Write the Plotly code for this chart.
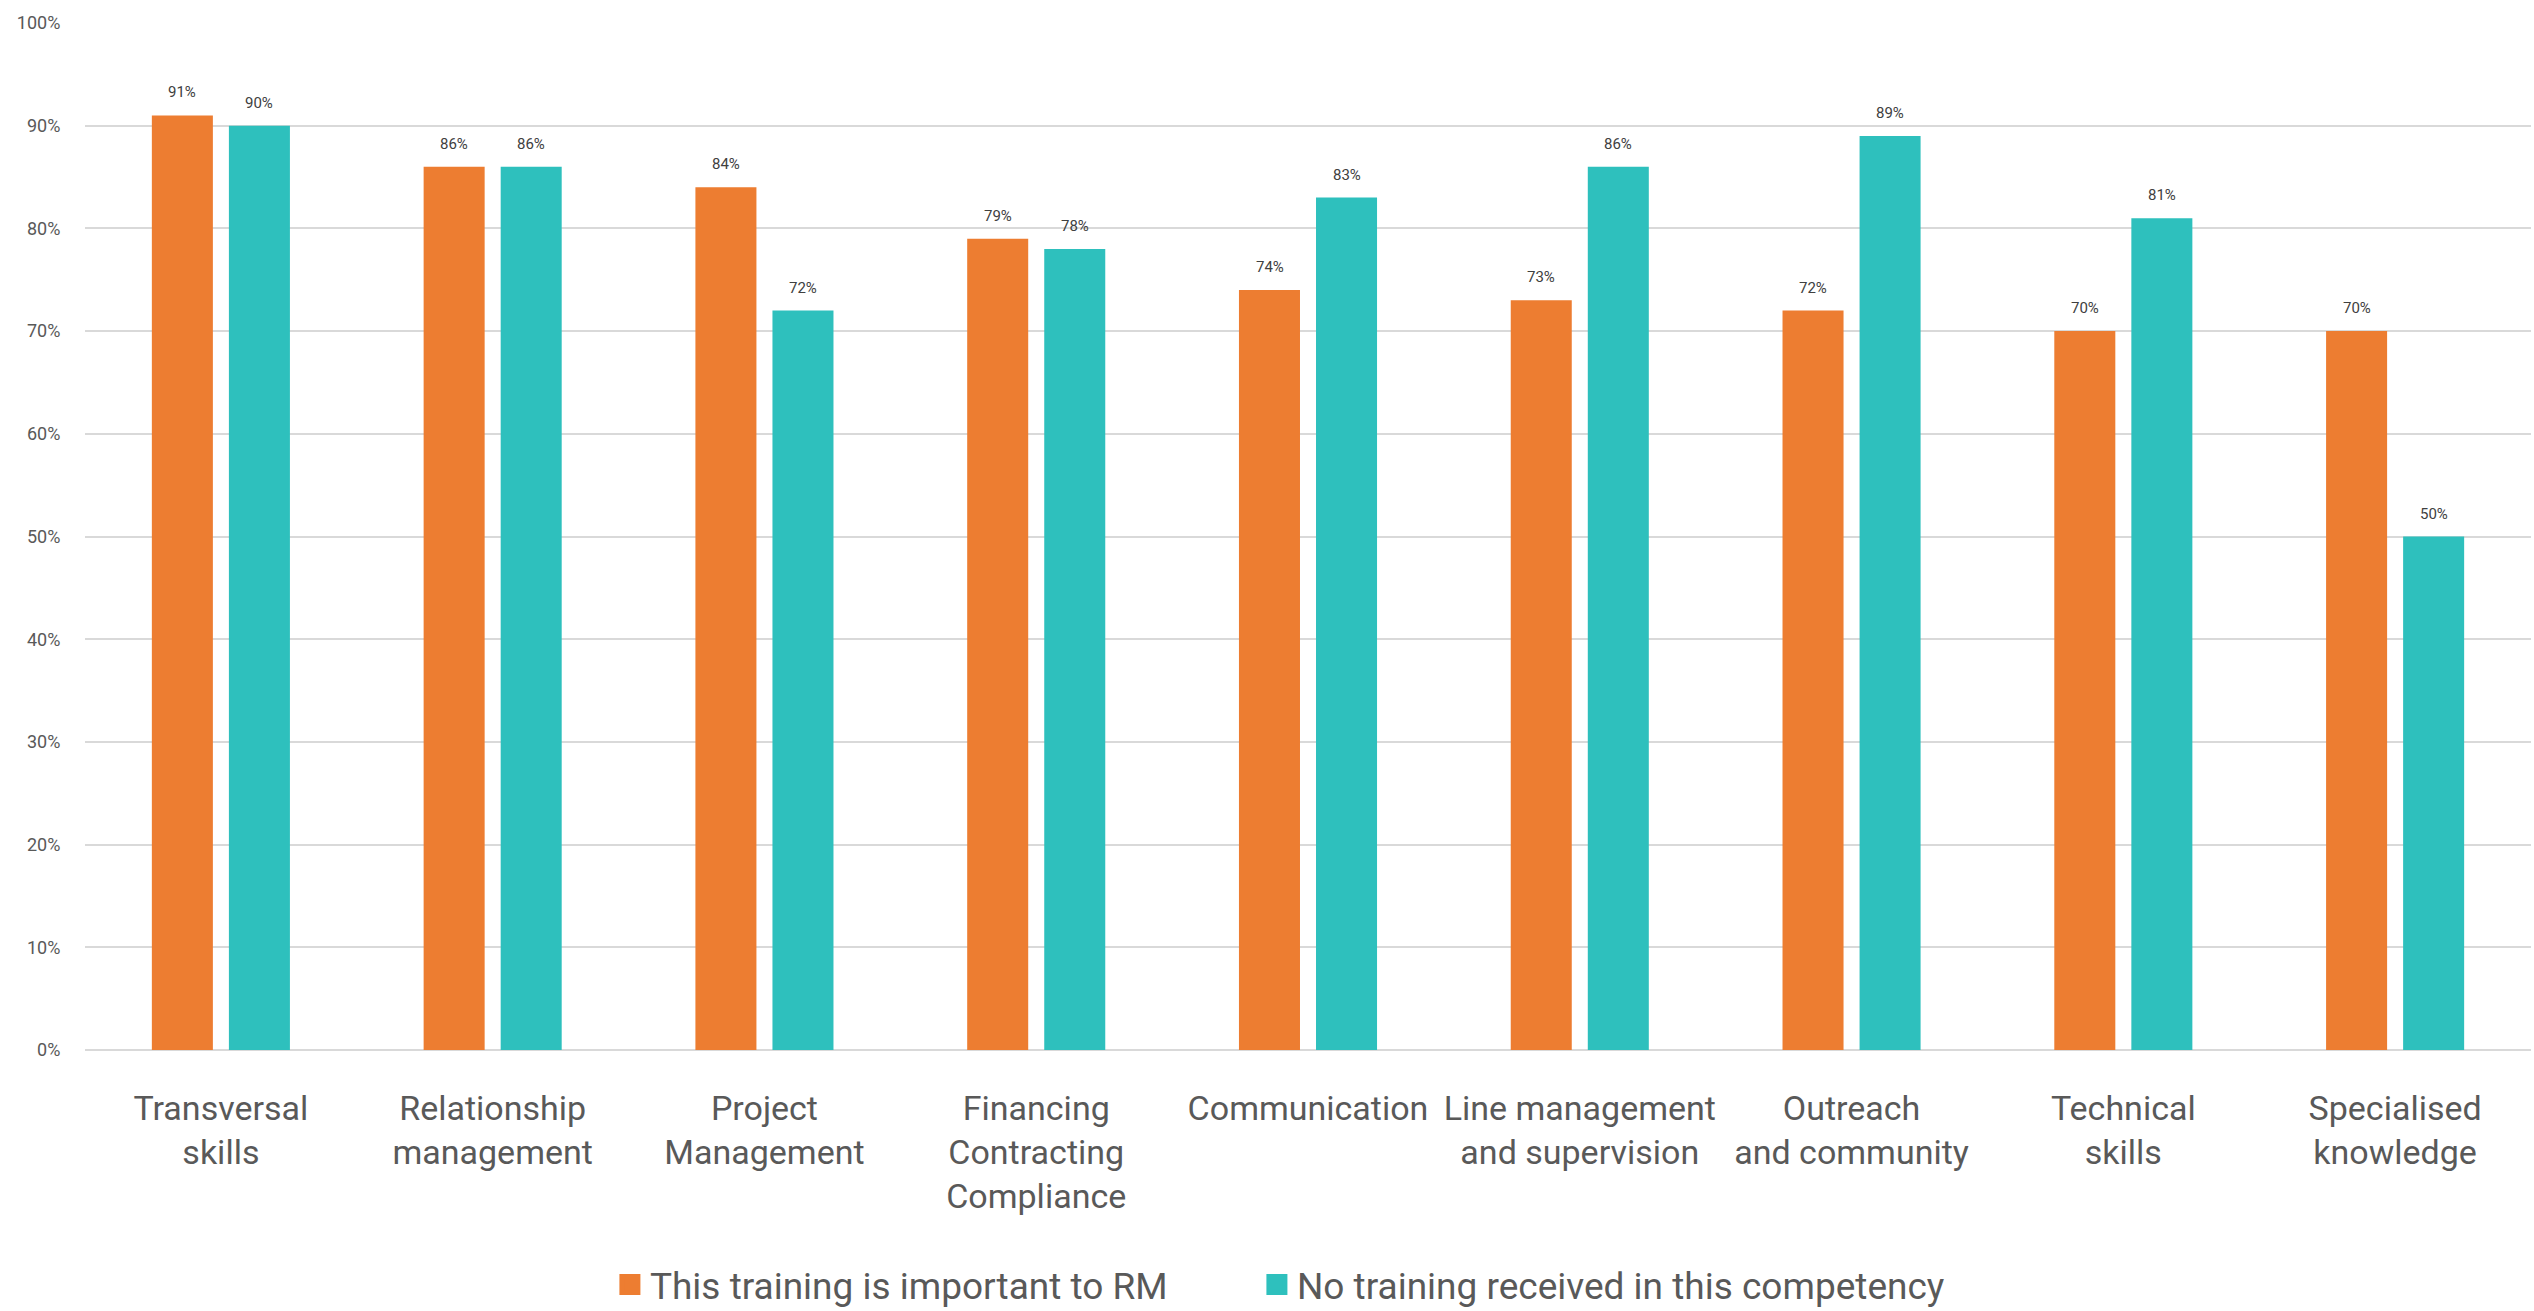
import plotly.graph_objects as go

categories = ["Transversal<br>skills", "Relationship<br>management", "Project<br>Management",
              "Financing<br>Contracting<br>Compliance", "Communication",
              "Line management<br>and supervision", "Outreach<br>and community",
              "Technical<br>skills", "Specialised<br>knowledge"]
important = [91, 86, 84, 79, 74, 73, 72, 70, 70]
no_training = [90, 86, 72, 78, 83, 86, 89, 81, 50]
series_names = ["This training is important to RM", "No training received in this competency"]
y_ticks = [0, 10, 20, 30, 40, 50, 60, 70, 80, 90, 100]
y_tick_labels = [f"{v}%" for v in y_ticks]

FONT = "Roboto, Liberation Sans, sans-serif"
GREY = "#595959"
COLORS = ["#ED7D31", "#2EC0BD"]
LEGEND_WIDTHS = [602, 720]

fig = go.Figure()
for name, vals, col in zip(series_names, [important, no_training], COLORS):
    fig.add_trace(go.Bar(x=categories, y=vals, name=name, showlegend=False,
                         marker=dict(color=col, line=dict(width=0))))
# legend entries with larger square swatches
for name, col, lw in zip(series_names, COLORS, LEGEND_WIDTHS):
    fig.add_trace(go.Scatter(x=[None], y=[None], mode="markers", name=name, legendwidth=lw,
                             marker=dict(symbol="square", size=16, color=col,
                                         line=dict(width=5, color=col))))

# value labels above bars
for vals, shift in zip([important, no_training], [-38.5, 38.5]):
    for c, v in zip(categories, vals):
        fig.add_annotation(x=c, y=v, text=f"{v}%", showarrow=False,
                           xshift=shift, yshift=12, yanchor="bottom",
                           font=dict(size=15, color="#404040", family=FONT))

fig.update_layout(
    width=2534, height=1311,
    paper_bgcolor="white", plot_bgcolor="white",
    margin=dict(l=85, r=3, t=23, b=261),
    barmode="group", bargap=0.433, bargroupgap=0.208,
    font=dict(family=FONT, color=GREY),
    legend=dict(orientation="h", x=0.2146, xanchor="left",
                yref="container", y=1 - 1285 / 1311, yanchor="middle",
                font=dict(size=37, color=GREY, family=FONT),
                itemsizing="trace", traceorder="normal"),
    xaxis=dict(tickfont=dict(size=34, color=GREY, family=FONT), showgrid=False, tickangle=0,
               ticks="outside", ticklen=28, tickcolor="rgba(0,0,0,0)", showline=False),
    yaxis=dict(range=[0, 100], tickvals=y_ticks, ticktext=y_tick_labels,
               tickfont=dict(size=18, color=GREY, family=FONT),
               showgrid=True, gridcolor="#D9D9D9", gridwidth=2,
               zeroline=True, zerolinecolor="#D9D9D9", zerolinewidth=2,
               ticks="outside", ticklen=20, tickcolor="rgba(0,0,0,0)", showline=False),
)

fig.write_html("out.html", config={"displayModeBar": False},
               post_script="document.body.style.margin='0';document.body.style.overflow='hidden';")
